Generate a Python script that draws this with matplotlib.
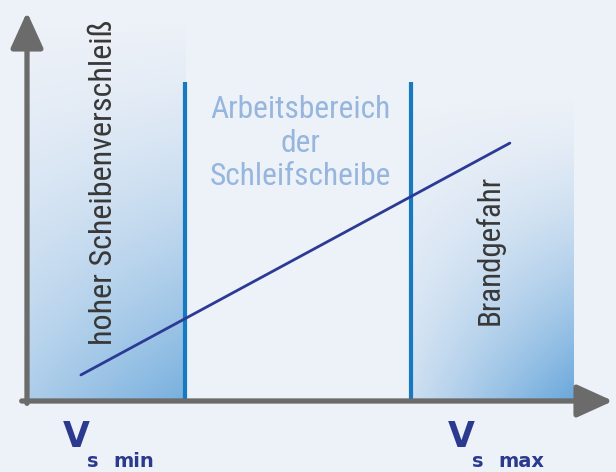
import numpy as np
import matplotlib
matplotlib.use("Agg")
import matplotlib.pyplot as plt
from matplotlib import font_manager as fm

# ---- data (schematic, in arbitrary units 0..100) ----
v_min = 27.0          # lower limit of working range
v_max = 65.5          # upper limit of working range
zone_right_end = 93.2 # end of "Brandgefahr" zone
limit_top = 82.0      # top of the limit lines
trend_x = [9.2, 82.4]
trend_y = [6.7, 66.3]
zone_labels = ["hoher Scheibenverschleiß", "Brandgefahr"]
work_label = ["Arbeitsbereich", "der", "Schleifscheibe"]
speed_labels = [("V", "s", "min"), ("V", "s", "max")]

# pick a condensed font if available
fam, stretch = "DejaVu Sans", "normal"
for f in fm.fontManager.ttflist:
    if f.name in ("Liberation Sans Narrow", "Roboto Condensed", "Open Sans Condensed"):
        fam, stretch = f.name, "normal"
        break
else:
    for f in fm.fontManager.ttflist:
        if f.name == "DejaVu Sans" and "Condensed" in f.fname:
            fam, stretch = "DejaVu Sans", "condensed"
            break

W, H = 616, 472
fig = plt.figure(figsize=(W / 100, H / 100), dpi=100)
fig.patch.set_facecolor("#edf1f8")
ax = fig.add_axes([27 / W, (H - 401) / H, (613 - 27) / W, (401 - 12) / H])
ax.axis("off")

# gradient shaded zones
base = np.array(matplotlib.colors.to_rgb("#5a9fd8"))
def grad(x0, x1, ytop, amax, xmin_frac):
    ny, nx = 200, 100
    yy = np.linspace(1, 0, ny)[:, None]   # 1 at top
    xx = np.linspace(0, 1, nx)[None, :]
    a = amax * (1 - yy) ** 1.5 * (xmin_frac + (1 - xmin_frac) * xx)
    img = np.zeros((ny, nx, 4))
    img[..., :3] = base
    img[..., 3] = a
    ax.imshow(img, extent=[x0, x1, 0, ytop], aspect="auto", origin="upper",
              zorder=1, interpolation="bilinear")

grad(0, v_min, 100, 0.8, 0.55)
grad(v_max, zone_right_end, 80, 0.9, 0.25)
ax.set_xlim(0, 100)
ax.set_ylim(0, 100)

# limit lines
for v in (v_min, v_max):
    ax.plot([v, v], [0, limit_top], color="#1779c0", lw=3.0, zorder=3,
            solid_capstyle="butt")

# trend line
ax.plot(trend_x, trend_y, color="#2b3a94", lw=2.0, zorder=4, solid_capstyle="round")

# axes arrows
arrow_kw = dict(arrowstyle="-|>,head_length=22,head_width=10", mutation_scale=1,
                color="#6b6b6b", lw=3.8, shrinkA=0, shrinkB=0)
ax.annotate("", xy=(100, 0), xytext=(-0.9, 0), arrowprops=arrow_kw,
            annotation_clip=False, zorder=5)
ax.annotate("", xy=(0, 100), xytext=(0, -0.6), arrowprops=arrow_kw,
            annotation_clip=False, zorder=5)

renderer = fig.canvas.get_renderer()
def fit_size(s, target_px, **kw):
    t = fig.text(0, 0, s, fontsize=20, **kw)
    w = t.get_window_extent(renderer).width
    t.remove()
    return 20 * target_px / w

fkw = dict(family=fam, fontstretch=stretch)
fs1 = fit_size(zone_labels[0], 325, **fkw)
fs2 = fit_size(zone_labels[1], 150, **fkw)
fsw = fit_size(work_label[0], 180, **fkw)

ax.text(13.1, 56.3, zone_labels[0], rotation=90, ha="center", va="center",
        fontsize=fs1, color="#383838", zorder=6, **fkw)
ax.text(79.0, 38.8, zone_labels[1], rotation=90, ha="center", va="center",
        fontsize=fs2, color="#383838", zorder=6, **fkw)
ax.text(46.6, 66.3, "\n".join(work_label), ha="center", va="center",
        fontsize=fsw, color="#96b6de", linespacing=1.18, zorder=6, **fkw)

navy = "#2b3a8f"
px_per_x = 5.86
px_per_y = 3.89
for (big, s, sub), px in zip(speed_labels, [63, 448]):
    xv = (px - 27) / px_per_x
    ax.text(xv, (401 - 447) / px_per_y, big, ha="left", va="baseline", fontsize=25,
            family="DejaVu Sans", fontweight="bold", color=navy)
    ax.text(xv + 24 / px_per_x, (401 - 467) / px_per_y, s, ha="left", va="baseline",
            fontsize=14, family="DejaVu Sans", fontweight="bold", color=navy)
    ax.text(xv + 50 / px_per_x, (401 - 467) / px_per_y, sub, ha="left", va="baseline",
            fontsize=14, family="DejaVu Sans", fontweight="bold", color=navy)

fig.savefig("out.png", dpi=100, facecolor=fig.get_facecolor())
